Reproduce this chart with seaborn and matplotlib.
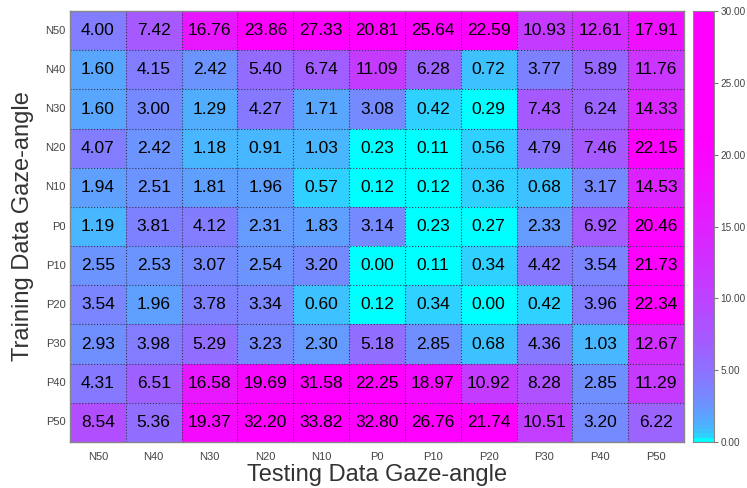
import matplotlib
matplotlib.use('Agg')
import matplotlib.pyplot as plt
from matplotlib.colors import ListedColormap
import seaborn as sns
import pandas as pd
import numpy as np

# gaze-angle labels (rows = training, columns = testing)
angles = ['N50', 'N40', 'N30', 'N20', 'N10', 'P0', 'P10', 'P20', 'P30', 'P40', 'P50']

row_n50 = [4.00, 7.42, 16.76, 23.86, 27.33, 20.81, 25.64, 22.59, 10.93, 12.61, 17.91]
row_n40 = [1.60, 4.15, 2.42, 5.40, 6.74, 11.09, 6.28, 0.72, 3.77, 5.89, 11.76]
row_n30 = [1.60, 3.00, 1.29, 4.27, 1.71, 3.08, 0.42, 0.29, 7.43, 6.24, 14.33]
row_n20 = [4.07, 2.42, 1.18, 0.91, 1.03, 0.23, 0.11, 0.56, 4.79, 7.46, 22.15]
row_n10 = [1.94, 2.51, 1.81, 1.96, 0.57, 0.12, 0.12, 0.36, 0.68, 3.17, 14.53]
row_p0 = [1.19, 3.81, 4.12, 2.31, 1.83, 3.14, 0.23, 0.27, 2.33, 6.92, 20.46]
row_p10 = [2.55, 2.53, 3.07, 2.54, 3.20, 0.00, 0.11, 0.34, 4.42, 3.54, 21.73]
row_p20 = [3.54, 1.96, 3.78, 3.34, 0.60, 0.12, 0.34, 0.00, 0.42, 3.96, 22.34]
row_p30 = [2.93, 3.98, 5.29, 3.23, 2.30, 5.18, 2.85, 0.68, 4.36, 1.03, 12.67]
row_p40 = [4.31, 6.51, 16.58, 19.69, 31.58, 22.25, 18.97, 10.92, 8.28, 2.85, 11.29]
row_p50 = [8.54, 5.36, 19.37, 32.20, 33.82, 32.80, 26.76, 21.74, 10.51, 3.20, 6.22]

rows = [row_n50, row_n40, row_n30, row_n20, row_n10, row_p0,
        row_p10, row_p20, row_p30, row_p40, row_p50]
df = pd.DataFrame(rows, index=angles, columns=angles)

# stepped "cool" map, stretched towards the low end
n_lev = 100
lev = np.arange(n_lev) * 30.0 / n_lev
cmap = ListedColormap(plt.cm.cool(np.clip((lev / 21.0) ** 0.4, 0, 1)))

sns.set_style('white')
plt.rcParams['font.family'] = ['Liberation Sans', 'DejaVu Sans']

fig = plt.figure(figsize=(7.47, 4.88), dpi=100)
ax = fig.add_axes([0.0937, 0.0943, 0.822, 0.883])
cax = fig.add_axes([0.9277, 0.0943, 0.0281, 0.883])

sns.heatmap(df, ax=ax, cbar_ax=cax, cmap=cmap, vmin=0, vmax=30,
            annot=True, fmt='.2f', annot_kws={'fontsize': 12.5, 'color': 'black'},
            cbar_kws={'ticks': [0, 5, 10, 15, 20, 25, 30], 'format': '%.2f'})

# dotted cell borders
for k in range(1, len(angles)):
    ax.axhline(k, color='#333350', ls=':', lw=0.8)
    ax.axvline(k, color='#333350', ls=':', lw=0.8)

for s in ax.spines.values():
    s.set_visible(True)
    s.set_color('#888888')
    s.set_linewidth(1)

ax.tick_params(axis='both', direction='in', length=4, width=0.8, color='#777777',
               labelsize=8, labelcolor='#444444', top=True, right=True,
               bottom=True, left=True, pad=3)
ax.tick_params(axis='x', pad=7)
plt.setp(ax.get_yticklabels(), rotation=0)
plt.setp(ax.get_xticklabels(), rotation=0)

ax.set_xlabel('Testing Data Gaze-angle', fontsize=17, color='#333333', labelpad=2)
ax.set_ylabel('Training Data Gaze-angle', fontsize=17, color='#333333', labelpad=8)

cax.tick_params(direction='out', length=3, width=0.8, color='#777777',
                labelsize=7.2, labelcolor='#444444', pad=1.5)
for s in cax.spines.values():
    s.set_visible(True)
    s.set_color('#888888')

fig.savefig('out.png', dpi=100)
